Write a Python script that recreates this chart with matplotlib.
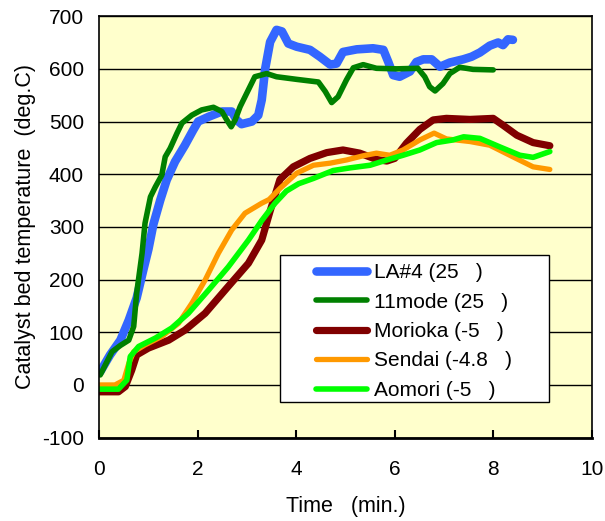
import matplotlib.pyplot as plt
from matplotlib.patches import Rectangle

plt.rcParams['font.family'] = ['Liberation Sans', 'DejaVu Sans']
plt.rcParams['axes.unicode_minus'] = False

# Data (time in min, temperature in deg.C)
la4_t = [0.02, 0.22, 0.43, 0.6, 0.76, 0.9, 1.0, 1.1, 1.24, 1.37, 1.54, 1.74, 1.91, 2.01,
         2.22, 2.49, 2.69, 2.79, 2.89, 3.1, 3.23, 3.3, 3.37, 3.47, 3.6, 3.71, 3.84, 4.01,
         4.28, 4.48, 4.69, 4.82, 4.95, 5.23, 5.56, 5.77, 5.87, 5.97, 6.1, 6.31, 6.44,
         6.58, 6.75, 6.92, 7.12, 7.39, 7.56, 7.73, 7.93, 8.1, 8.2, 8.3, 8.4]
la4_v = [25, 57, 85, 123, 165, 220, 258, 305, 351, 389, 424, 455, 484, 500,
         509, 519, 519, 503, 495, 500, 512, 541, 600, 651, 674, 671, 648, 642,
         636, 623, 608, 610, 632, 637, 639, 636, 613, 588, 585, 595, 613,
         618, 618, 604, 612, 618, 623, 631, 644, 650, 645, 656, 655]

m11_t = [0.02, 0.26, 0.43, 0.6, 0.7, 0.76, 0.87, 0.93, 1.04, 1.14, 1.27, 1.34, 1.44,
         1.58, 1.68, 1.88, 2.08, 2.32, 2.49, 2.59, 2.68, 2.76, 2.86, 2.96, 3.16, 3.4,
         3.6, 4.01, 4.45, 4.59, 4.72, 4.85, 5.02, 5.16, 5.36, 5.63, 6.04, 6.47, 6.61,
         6.71, 6.82, 6.98, 7.12, 7.32, 7.59, 8.0]
m11_v = [19, 63, 75, 85, 111, 174, 250, 307, 357, 376, 398, 433, 449,
         478, 497, 512, 522, 527, 519, 503, 490, 503, 528, 547, 585, 591,
         585, 580, 575, 557, 536, 547, 579, 602, 608, 601, 600, 601, 585,
         566, 558, 572, 591, 603, 599, 598]

mor_t = [0.0, 0.39, 0.53, 0.66, 0.76, 1.0, 1.41, 1.74, 2.15, 2.62, 3.03, 3.3, 3.47, 3.67,
         3.94, 4.28, 4.62, 4.95, 5.29, 5.63, 5.84, 6.0, 6.24, 6.51, 6.78, 7.05, 7.53,
         8.0, 8.2, 8.48, 8.81, 9.15]
mor_v = [-13, -13, -3, 28, 57, 70, 85, 104, 136, 187, 231, 275, 330, 390,
         414, 430, 441, 446, 440, 428, 425, 430, 459, 485, 503, 506, 504,
         506, 493, 474, 460, 454]

sen_t = [0.0, 0.32, 0.5, 0.6, 0.7, 0.93, 1.27, 1.61, 1.88, 2.15, 2.42, 2.69, 2.96, 3.3,
         3.45, 3.67, 4.01, 4.35, 4.69, 5.02, 5.36, 5.63, 5.9, 6.17, 6.51, 6.8, 7.05,
         7.53, 7.93, 8.4, 8.81, 9.15]
sen_v = [0, 0, 9, 41, 63, 76, 92, 117, 155, 199, 250, 294, 326, 345,
         352, 373, 402, 417, 421, 427, 435, 440, 436, 446, 465, 478, 467,
         462, 455, 433, 414, 409]

aom_t = [0.0, 0.39, 0.56, 0.63, 0.8, 1.14, 1.47, 1.81, 2.22, 2.62, 3.03, 3.3, 3.57,
         3.8, 4.05, 4.35, 4.75, 5.09, 5.5, 5.84, 6.17, 6.51, 6.85, 7.18, 7.4, 7.73,
         8.13, 8.54, 8.81, 9.15]
aom_v = [-8, -8, 9, 54, 73, 89, 108, 136, 180, 224, 275, 312, 345,
         368, 382, 392, 407, 412, 417, 427, 436, 446, 460, 465, 471, 468,
         452, 436, 432, 443]

labels = ['LA#4 (25   )', '11mode (25   )', 'Morioka (-5   )',
          'Sendai (-4.8   )', 'Aomori (-5   )']

fig = plt.figure(figsize=(6.05, 5.21), dpi=100)
ax = fig.add_axes([0.164, 0.160, 0.814, 0.809])
ax.set_facecolor('#FFFFCC')

kw = dict(solid_capstyle='round', solid_joinstyle='round')
ax.plot(la4_t, la4_v, color='#3366FF', lw=6.2, label=labels[0], **kw)
ax.plot(m11_t, m11_v, color='#008000', lw=4.0, label=labels[1], **kw)
ax.plot(mor_t, mor_v, color='#800000', lw=5.2, label=labels[2], **kw)
ax.plot(sen_t, sen_v, color='#FF9900', lw=3.8, label=labels[3], **kw)
ax.plot(aom_t, aom_v, color='#00FF00', lw=4.0, label=labels[4], **kw)

ax.set_xlim(0, 10)
ax.set_ylim(-100, 700)
ax.set_xticks(range(0, 11, 2))
ax.set_yticks(range(-100, 701, 100))
ax.yaxis.grid(True, color='black', lw=1)
ax.set_axisbelow(True)
ax.tick_params(axis='x', direction='in', length=6, width=1.5, labelsize=15, pad=16)
ax.tick_params(axis='y', direction='out', length=0, labelsize=15, pad=11)
for s in ax.spines.values():
    s.set_linewidth(1.2)
ax.spines['bottom'].set_linewidth(2)

ax.set_xlabel('Time   (min.)', fontsize=15.5, labelpad=12)
ax.set_ylabel('Catalyst bed temperature  (deg.C)', fontsize=15.5, labelpad=4)

# legend box
box = Rectangle((0.367, 0.084), 0.546, 0.349, transform=ax.transAxes,
                facecolor='white', edgecolor='black', lw=1, zorder=4)
ax.add_patch(box)
leg = ax.legend(loc='upper left', bbox_to_anchor=(0.441, 0.414), frameon=False,
                fontsize=15, handlelength=2.45, handletextpad=0.3,
                borderpad=0, borderaxespad=0, labelspacing=0.5)
leg.set_zorder(5)

fig.savefig('out.png', dpi=100)
